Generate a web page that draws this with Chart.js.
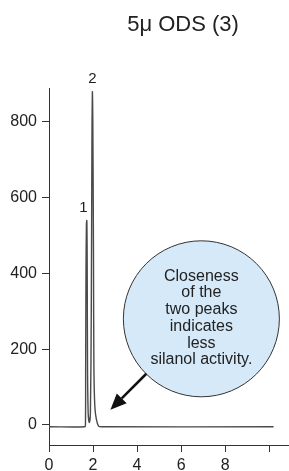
<!DOCTYPE html>
<html>
<head>
<meta charset="utf-8">
<script src="https://cdn.jsdelivr.net/npm/chart.js@4"></script>
<style>
  html, body { margin: 0; padding: 0; background: #fff; }
  #wrap { width: 289px; height: 471px; position: relative; }
</style>
</head>
<body>
<div id="wrap"><canvas id="c" width="289" height="471"></canvas></div>
<script>
// Chromatogram
const timeMin = [0, 1.62, 1.655, 1.665, 1.68, 1.70, 1.72, 1.735, 1.75, 1.78, 1.83, 1.88, 1.92, 1.95, 1.97, 1.99, 2.02, 2.04, 2.08, 2.15, 2.25, 2.40, 10.2];
const signal  = [-5, -5, 0, 150, 400, 530, 539, 420, 150, 30, 6, 30, 300, 750, 879, 800, 450, 150, 50, 15, -3, -5, -5];

const xTickValues = [0, 2, 4, 6, 8, 10];
const xTickLabels = ['0', '2', '4', '6', '8', ''];
const yTickValues = [0, 200, 400, 600, 800];
const yTickLabels = ['0', '200', '400', '600', '800'];

const titleText = '5\u03bc ODS (3)';
const peakLabels = [{ text: '1', x: 1.70, y: 539 }, { text: '2', x: 1.97, y: 879 }];
const calloutLines = ['Closeness', 'of the', 'two peaks', 'indicates', 'less', 'silanol activity.'];
const calloutCenter = { x: 6.92, y: 280 };
const arrowFrom = { x: 4.42, y: 135 };
const arrowTo = { x: 2.79, y: 40 };

const FONT = '"Liberation Sans", Arial, Helvetica, sans-serif';

const overlay = {
  id: 'overlay',
  afterDatasetsDraw(chart) {
    const ctx = chart.ctx;
    const xs = chart.scales.x, ys = chart.scales.y;
    ctx.save();
    // title
    ctx.fillStyle = '#222';
    ctx.font = '22px ' + FONT;
    ctx.textAlign = 'center';
    ctx.textBaseline = 'middle';
    ctx.fillText(titleText, 183, 25);
    // peak labels
    ctx.font = '15px ' + FONT;
    ctx.textBaseline = 'alphabetic';
    peakLabels.forEach((p, i) => {
      const px = xs.getPixelForValue(p.x);
      const py = ys.getPixelForValue(p.y);
      ctx.fillText(p.text, px + (i === 0 ? -3 : 0), py - 9);
    });
    // callout circle
    const cx = xs.getPixelForValue(calloutCenter.x);
    const cy = ys.getPixelForValue(calloutCenter.y);
    ctx.beginPath();
    ctx.arc(cx, cy, 78, 0, Math.PI * 2);
    ctx.fillStyle = '#d5e9f9';
    ctx.fill();
    ctx.lineWidth = 1;
    ctx.strokeStyle = '#333';
    ctx.stroke();
    ctx.fillStyle = '#222';
    ctx.font = '16px ' + FONT;
    ctx.textAlign = 'center';
    ctx.textBaseline = 'alphabetic';
    calloutLines.forEach((t, i) => {
      ctx.fillText(t, cx, cy - 38 + i * 16.7);
    });
    // arrow
    const ax = xs.getPixelForValue(arrowFrom.x), ay = ys.getPixelForValue(arrowFrom.y);
    const bx = xs.getPixelForValue(arrowTo.x), by = ys.getPixelForValue(arrowTo.y);
    const ang = Math.atan2(by - ay, bx - ax);
    const headLen = 16, headW = 7;
    const hx = bx - headLen * Math.cos(ang), hy = by - headLen * Math.sin(ang);
    ctx.beginPath();
    ctx.moveTo(ax, ay);
    ctx.lineTo(hx, hy);
    ctx.lineWidth = 2.5;
    ctx.strokeStyle = '#111';
    ctx.stroke();
    ctx.beginPath();
    ctx.moveTo(bx, by);
    ctx.lineTo(hx + headW * Math.sin(ang), hy - headW * Math.cos(ang));
    ctx.lineTo(hx - headW * Math.sin(ang), hy + headW * Math.cos(ang));
    ctx.closePath();
    ctx.fillStyle = '#111';
    ctx.fill();
    ctx.restore();
  }
};

new Chart(document.getElementById('c'), {
  type: 'line',
  data: {
    datasets: [{
      data: timeMin.map((t, i) => ({ x: t, y: signal[i] })),
      borderColor: '#4a4a4a',
      borderWidth: 1.4,
      pointRadius: 0,
      tension: 0.3,
      fill: false
    }]
  },
  options: {
    responsive: false,
    animation: false,
    devicePixelRatio: 1,
    layout: { padding: { top: 88, right: 0, left: 0, bottom: 0 } },
    plugins: { legend: { display: false }, tooltip: { enabled: false }, title: { display: false } },
    scales: {
      x: {
        type: 'linear',
        min: 0, max: 10.9,
        afterBuildTicks: s => { s.ticks = xTickValues.map(v => ({ value: v })); },
        afterFit: s => { s.height = 26; s.paddingLeft = 0; s.paddingRight = 0; },
        ticks: {
          callback: (v, i) => xTickLabels[i],
          color: '#222', font: { size: 16, family: FONT }, padding: 4,
          maxRotation: 0, autoSkip: false
        },
        grid: { display: true, drawOnChartArea: false, drawTicks: true, tickLength: 7, tickColor: '#333', tickWidth: 1 },
        border: { display: true, color: '#333', width: 1 }
      },
      y: {
        type: 'linear',
        min: -53, max: 889,
        afterBuildTicks: s => { s.ticks = yTickValues.map(v => ({ value: v })); },
        afterFit: s => { s.width = 49; },
        ticks: {
          callback: (v, i) => yTickLabels[i],
          color: '#222', font: { size: 16, family: FONT }, padding: 5, autoSkip: false
        },
        grid: { display: true, drawOnChartArea: false, drawTicks: true, tickLength: 7, tickColor: '#333', tickWidth: 1 },
        border: { display: true, color: '#333', width: 1 }
      }
    }
  },
  plugins: [overlay]
});
</script>
</body>
</html>
